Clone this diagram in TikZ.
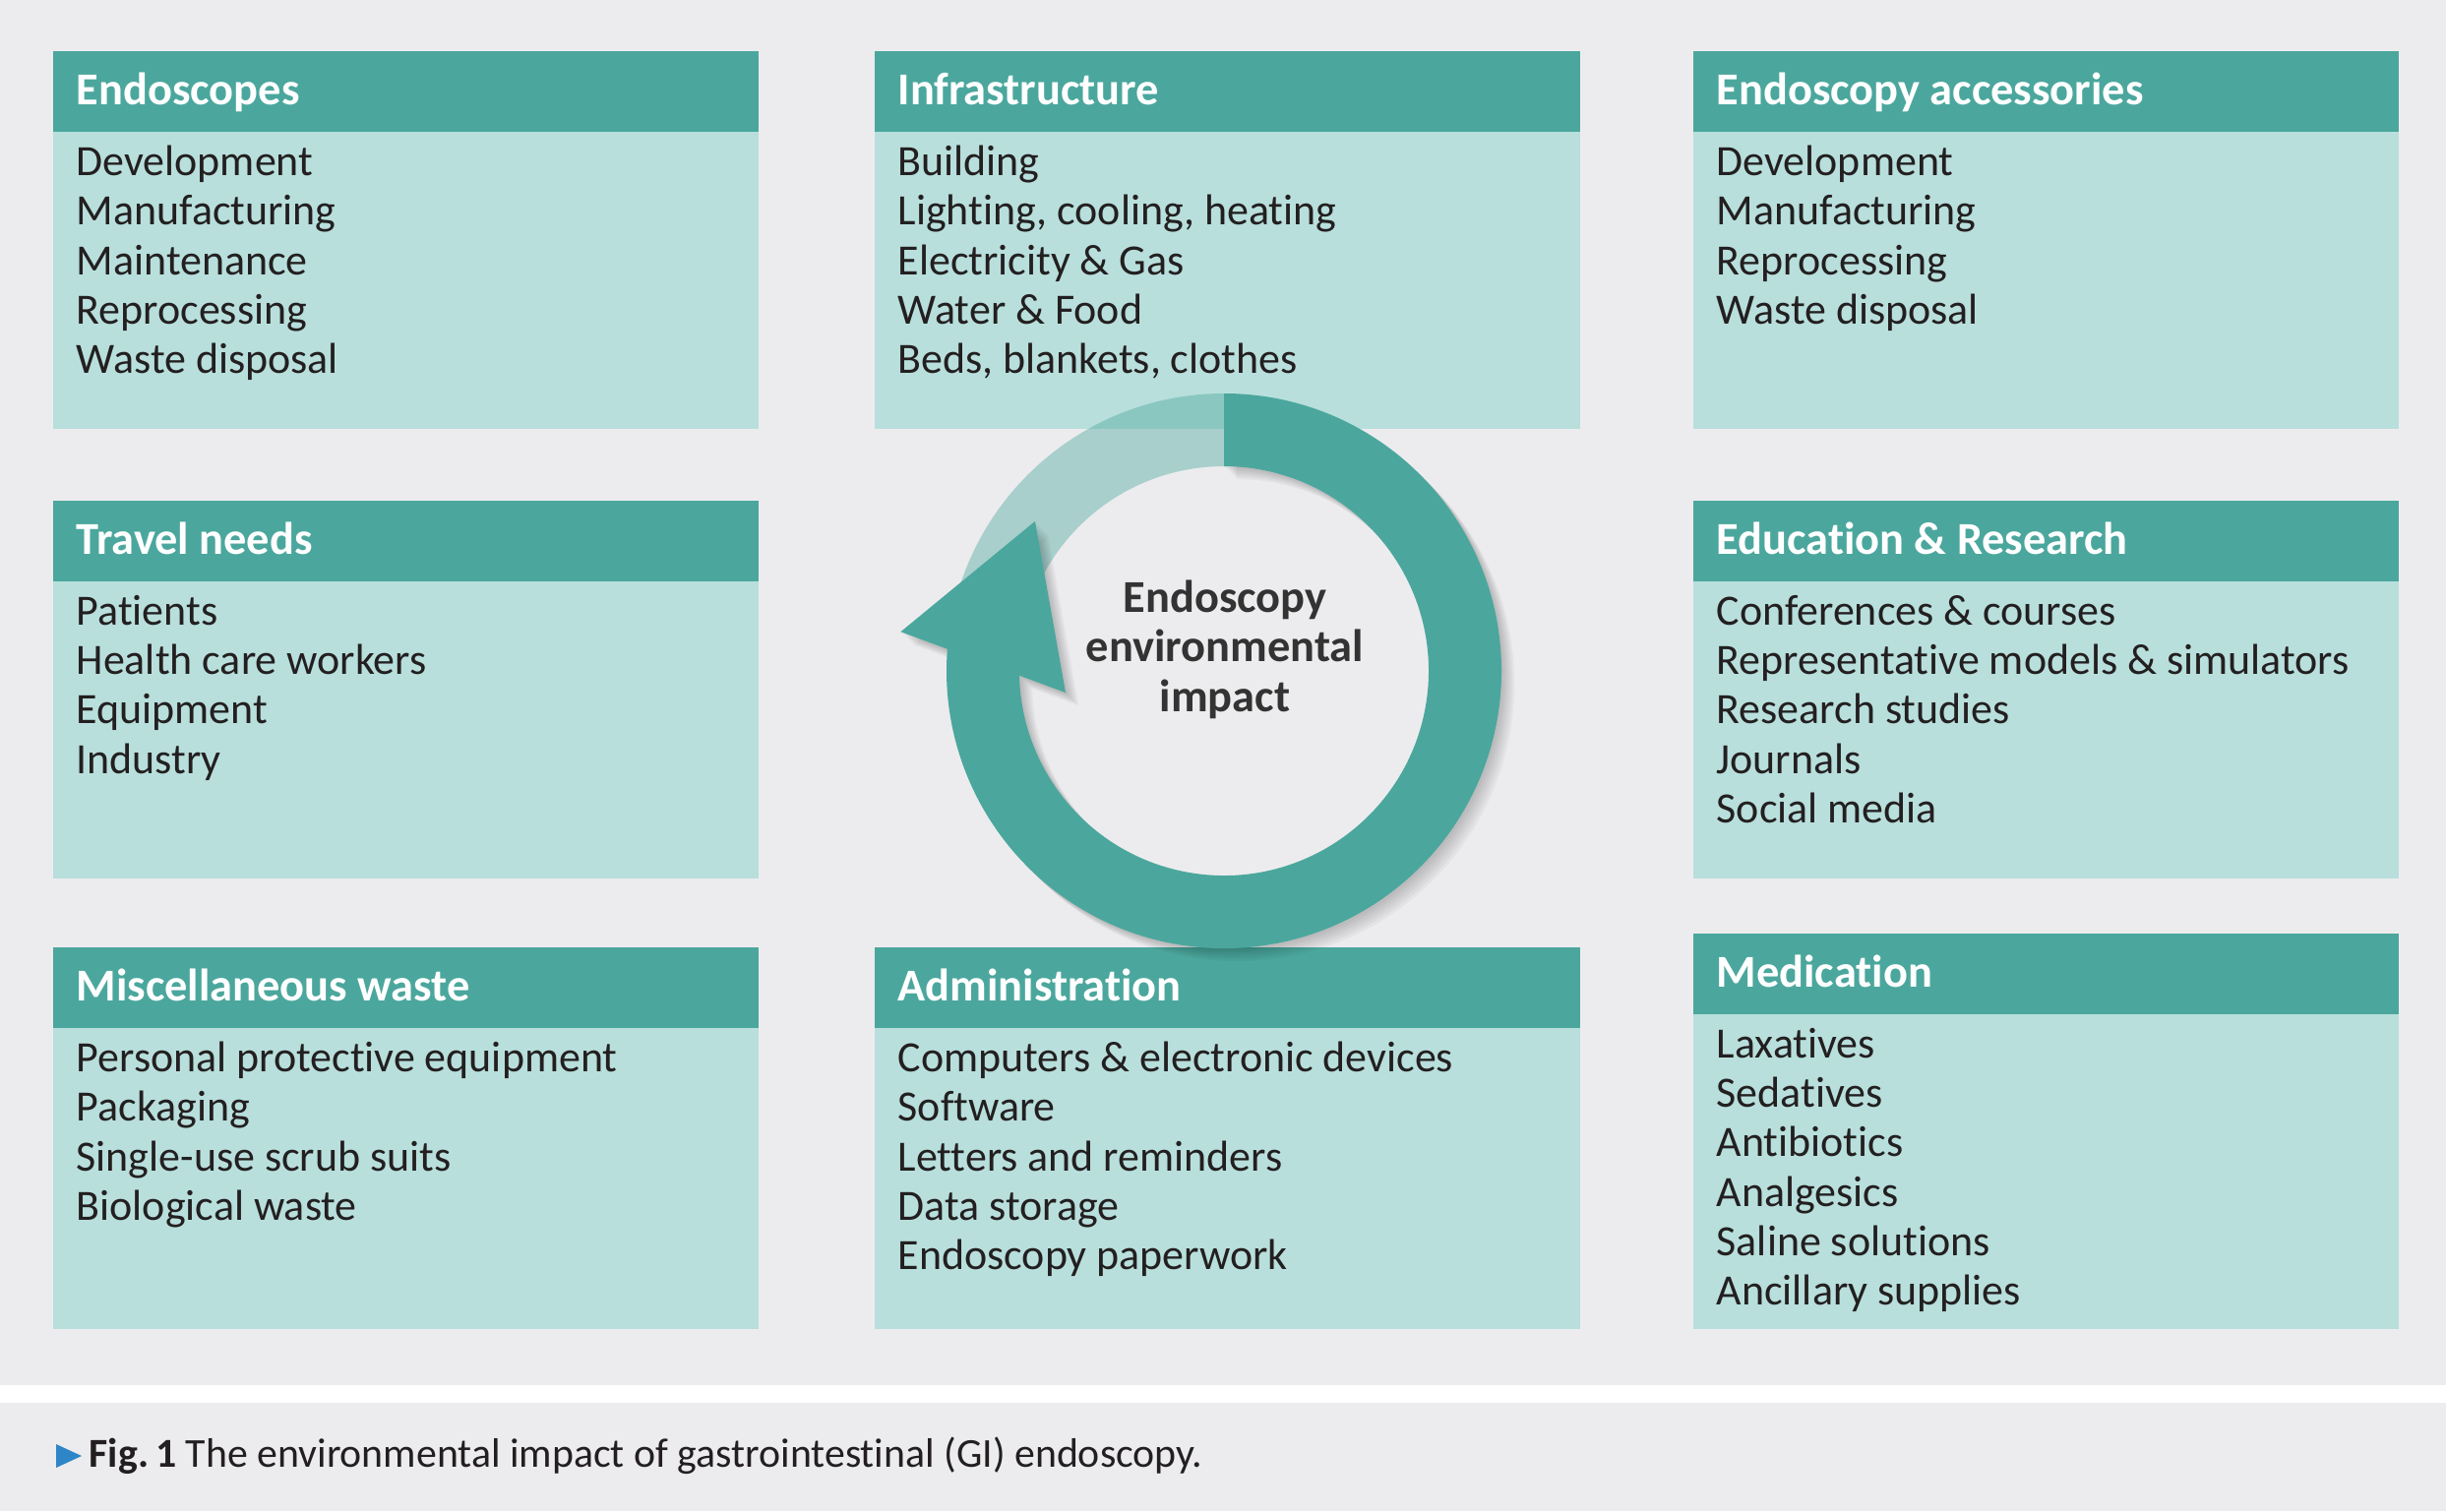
\documentclass[tikz,border=0pt]{standalone}
\usepackage{fontspec}
\setmainfont{Carlito}[Ligatures=NoCommon]
\usetikzlibrary{positioning}
\definecolor{verde}{RGB}{75,167,157}
\definecolor{verdeclaro}{RGB}{184,223,220}
\definecolor{fondo}{RGB}{236,236,238}
\definecolor{tinta}{RGB}{35,31,32}
\definecolor{azulpie}{RGB}{46,134,200}

\begin{document}
\begin{tikzpicture}
%----------estilos---------
\tikzset{
panel/.style={rectangle, fill=verdeclaro, minimum width=7.17cm, inner sep=0pt, anchor=north west},
band/.style={rectangle, fill=verde, minimum width=7.17cm, minimum height=0.82cm, inner sep=0pt, anchor=north west},
heading/.style={text=white, font=\bfseries\fontsize{13.2}{15.8}\selectfont, inner sep=0pt, yshift=-0.03cm, execute at begin node=\strut},
items/.style={text=tinta, font=\fontsize{12.5}{14.3}\selectfont, align=left, inner sep=0pt, execute at begin node=\strut},
centro/.style={text=black!80, font=\bfseries\fontsize{13.2}{14.4}\selectfont, align=center, inner sep=0pt, execute at begin node=\strut}}

\useasboundingbox (0,0) rectangle (24.86,-15.36);
\fill[fondo] (0,0) rectangle (24.86,-15.36);
\fill[white] (0,-14.08) rectangle (24.86,-14.26);

%----------Endoscopes---------
\node[panel, minimum height=3.84cm] (endo) at (0.53,-0.51) {};
\node[band] (endo-h) at (endo.north west) {};
\node[heading, right=0.24cm of endo-h.west] (endo-t) {Endoscopes};
\node[items, below right=0.13cm and 0.24cm of endo-h.south west] (endo-l) {Development\\Manufacturing\\Maintenance\\Reprocessing\\Waste disposal};

%----------Infrastructure---------
\node[panel, minimum height=3.84cm] (infra) at (8.88,-0.51) {};
\node[band] (infra-h) at (infra.north west) {};
\node[heading, right=0.24cm of infra-h.west] (infra-t) {Infrastructure};
\node[items, below right=0.13cm and 0.24cm of infra-h.south west] (infra-l) {Building\\Lighting, cooling, heating\\Electricity \& Gas\\Water \& Food\\Beds, blankets, clothes};

%----------Endoscopy accessories---------
\node[panel, minimum height=3.84cm] (acc) at (17.20,-0.51) {};
\node[band] (acc-h) at (acc.north west) {};
\node[heading, right=0.24cm of acc-h.west] (acc-t) {Endoscopy accessories};
\node[items, below right=0.13cm and 0.24cm of acc-h.south west] (acc-l) {Development\\Manufacturing\\Reprocessing\\Waste disposal};

%----------Travel needs---------
\node[panel, minimum height=3.84cm] (viaje) at (0.53,-5.08) {};
\node[band] (viaje-h) at (viaje.north west) {};
\node[heading, right=0.24cm of viaje-h.west] (viaje-t) {Travel needs};
\node[items, below right=0.13cm and 0.24cm of viaje-h.south west] (viaje-l) {Patients\\Health care workers\\Equipment\\Industry};

%----------Education & Research---------
\node[panel, minimum height=3.84cm] (edu) at (17.20,-5.08) {};
\node[band] (edu-h) at (edu.north west) {};
\node[heading, right=0.24cm of edu-h.west] (edu-t) {Education \& Research};
\node[items, below right=0.13cm and 0.24cm of edu-h.south west] (edu-l) {Conferences \& courses\\Representative models \& simulators\\Research studies\\Journals\\Social media};

%----------Miscellaneous waste---------
\node[panel, minimum height=3.88cm] (misc) at (0.53,-9.62) {};
\node[band] (misc-h) at (misc.north west) {};
\node[heading, right=0.24cm of misc-h.west] (misc-t) {Miscellaneous waste};
\node[items, below right=0.13cm and 0.24cm of misc-h.south west] (misc-l) {Personal protective equipment\\Packaging\\Single-use scrub suits\\Biological waste};

%----------Administration---------
\node[panel, minimum height=3.88cm] (admin) at (8.88,-9.62) {};
\node[band] (admin-h) at (admin.north west) {};
\node[heading, right=0.24cm of admin-h.west] (admin-t) {Administration};
\node[items, below right=0.13cm and 0.24cm of admin-h.south west] (admin-l) {Computers \& electronic devices\\Software\\Letters and reminders\\Data storage\\Endoscopy paperwork};

%----------Medication---------
\node[panel, minimum height=4.02cm] (med) at (17.20,-9.48) {};
\node[band] (med-h) at (med.north west) {};
\node[heading, right=0.24cm of med-h.west] (med-t) {Medication};
\node[items, below right=0.13cm and 0.24cm of med-h.south west] (med-l) {Laxatives\\Sedatives\\Antibiotics\\Analgesics\\Saline solutions\\Ancillary supplies};

%----------anillo---------
\begin{scope}[shift={(12.44,-6.82)}]
% tramo claro
\fill[verde, opacity=0.42] (90:2.82) arc[start angle=90, end angle=175, radius=2.82] -- (175:2.08) arc[start angle=175, end angle=90, radius=2.08] -- cycle;
% sombra
\foreach \d in {1,...,6}
  \fill[black, opacity=0.035, shift={(\d*0.022,-\d*0.022)}] (90:2.82) arc[start angle=90, end angle=-190, radius=2.82] -- (-190:2.08) arc[start angle=-190, end angle=90, radius=2.08] -- cycle
    (173.1:3.31) -- (141.6:2.45) -- (187.8:1.625) -- cycle;
% flecha
\fill[verde] (90:2.82) arc[start angle=90, end angle=-190, radius=2.82] -- (-190:2.08) arc[start angle=-190, end angle=90, radius=2.08] -- cycle
  (173.1:3.31) -- (141.6:2.45) -- (187.8:1.625) -- cycle;
\node[centro] (impacto) at (0.01,0.18) {Endoscopy\\environmental\\impact};
\end{scope}

%----------pie---------
\fill[azulpie] (0.57,-14.68) -- (0.83,-14.80) -- (0.57,-14.92) -- cycle;
\node[anchor=base west, inner sep=0pt, text=tinta, font=\fontsize{11.9}{14}\selectfont] (pie) at (0.90,-14.91) {\textbf{Fig.\,1} The environmental impact of gastrointestinal (GI) endoscopy.};
\end{tikzpicture}
\end{document}
